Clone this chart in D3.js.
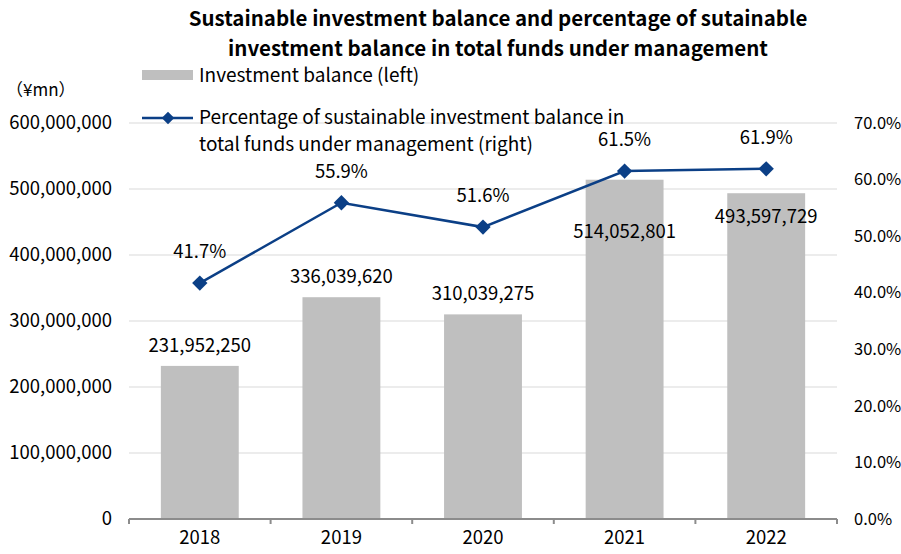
<!DOCTYPE html>
<html>
<head>
<meta charset="utf-8">
<script src="https://cdn.jsdelivr.net/npm/d3@7"></script>
<style>
  body { margin: 0; background: #fff; }
  text { font-family: "Noto Sans CJK JP", "Noto Sans", sans-serif; fill: #000; }
</style>
</head>
<body>
<div id="chart"></div>
<script>
var years = ["2018", "2019", "2020", "2021", "2022"];
var balance = [231952250, 336039620, 310039275, 514052801, 493597729];
var share = [41.7, 55.9, 51.6, 61.5, 61.9];
var leftTicks = [0, 100000000, 200000000, 300000000, 400000000, 500000000, 600000000];
var rightTicks = [0, 10, 20, 30, 40, 50, 60, 70];
// bar labels for 2021/2022 sit inside the bar (line labels are above)
var barLabelShift = [0, 0, 0, 72, 44];

var W = 901, H = 554;
var Margin = {top: 123, right: 64, bottom: 35, left: 129};

var svg = d3.select("#chart").append("svg")
  .attr("width", W)
  .attr("height", H);

var x = d3.scaleBand().domain(years).range([Margin.left, W - Margin.right])
  .paddingInner(0.45).paddingOuter(0.225);
var xOuter = d3.scaleBand().domain(years).range([Margin.left, W - Margin.right]);
var yL = d3.scaleLinear().domain([0, 600000000]).range([H - Margin.bottom, Margin.top]);
var yR = d3.scaleLinear().domain([0, 70]).range([H - Margin.bottom, Margin.top]);

// gridlines
svg.append("g").selectAll("line").data(leftTicks.slice(1)).join("line")
  .attr("x1", Margin.left).attr("x2", W - Margin.right)
  .attr("y1", d => yL(d)).attr("y2", d => yL(d))
  .style("stroke", "#d9d9d9").style("stroke-width", 1);

// bars
svg.append("g").selectAll("rect").data(balance).join("rect")
  .attr("x", (d, i) => x(years[i]))
  .attr("y", d => yL(d))
  .attr("width", x.bandwidth())
  .attr("height", d => yL(0) - yL(d))
  .style("fill", "#bfbfbf");

// x axis
var xAxis = d3.axisBottom(xOuter).tickSize(0).tickPadding(12);
var gx = svg.append("g").attr("transform", `translate(0,${H - Margin.bottom})`).call(xAxis);
gx.select(".domain").remove();
gx.selectAll("text").style("font-size", "18.5px");
svg.append("line")
  .attr("x1", Margin.left).attr("x2", W - Margin.right)
  .attr("y1", H - Margin.bottom).attr("y2", H - Margin.bottom)
  .style("stroke", "#8c8c8c").style("stroke-width", 2);
var bounds = years.map(d => xOuter(d)).concat([W - Margin.right]);
svg.append("g").selectAll("line").data(bounds).join("line")
  .attr("x1", d => d).attr("x2", d => d)
  .attr("y1", H - Margin.bottom).attr("y2", H - Margin.bottom + 5)
  .style("stroke", "#8c8c8c").style("stroke-width", 2);

// left axis
var gl = svg.append("g").attr("transform", `translate(${Margin.left},0)`)
  .call(d3.axisLeft(yL).tickValues(leftTicks).tickFormat(d3.format(",")).tickSize(0).tickPadding(17));
gl.select(".domain").remove();
gl.selectAll("text").style("font-size", "18.5px");

// right axis
var gr = svg.append("g").attr("transform", `translate(${W - Margin.right},0)`)
  .call(d3.axisRight(yR).tickValues(rightTicks).tickFormat(d => d.toFixed(1) + "%").tickSize(0).tickPadding(17));
gr.select(".domain").remove();
gr.selectAll("text").style("font-size", "16.5px");

// bar value labels
svg.append("g").selectAll("text").data(balance).join("text")
  .attr("x", (d, i) => x(years[i]) + x.bandwidth() / 2)
  .attr("y", (d, i) => yL(d) - 14 + barLabelShift[i])
  .attr("text-anchor", "middle")
  .style("font-size", "18.5px")
  .text(d => d3.format(",")(d));

// line
var cx = (d, i) => x(years[i]) + x.bandwidth() / 2;
svg.append("path").datum(share)
  .attr("d", d3.line().x(cx).y(d => yR(d)))
  .style("fill", "none").style("stroke", "#0b3f86").style("stroke-width", 2.5);
svg.append("g").selectAll("path").data(share).join("path")
  .attr("transform", (d, i) => `translate(${cx(d, i)},${yR(d)})`)
  .attr("d", d3.symbol(d3.symbolDiamond2, 150))
  .style("fill", "#0b3f86");
svg.append("g").selectAll("text").data(share).join("text")
  .attr("x", cx)
  .attr("y", d => yR(d) - 25)
  .attr("text-anchor", "middle")
  .style("font-size", "18.5px")
  .text(d => d.toFixed(1) + "%");

// title
var title = svg.append("text").attr("x", 498).attr("y", 26)
  .attr("text-anchor", "middle")
  .style("font-size", "20.5px").style("font-weight", "bold");
title.append("tspan").attr("x", 498).text("Sustainable investment balance and percentage of sutainable");
title.append("tspan").attr("x", 498).attr("dy", 30).text("investment balance in total funds under management");

// unit
svg.append("text").attr("x", 6).attr("y", 96).style("font-size", "17px").text("（¥mn）");

// legend
svg.append("rect").attr("x", 142).attr("y", 70).attr("width", 51).attr("height", 10).style("fill", "#bfbfbf");
svg.append("text").attr("x", 199).attr("y", 82).style("font-size", "19px").text("Investment balance (left)");
svg.append("line").attr("x1", 142).attr("x2", 193).attr("y1", 118).attr("y2", 118)
  .style("stroke", "#0b3f86").style("stroke-width", 2.5);
svg.append("path").attr("transform", "translate(168,118)")
  .attr("d", d3.symbol(d3.symbolDiamond2, 100)).style("fill", "#0b3f86");
svg.append("text").attr("x", 199).attr("y", 124).style("font-size", "19px")
  .text("Percentage of sustainable investment balance in");
svg.append("text").attr("x", 199).attr("y", 151).style("font-size", "19px")
  .text("total funds under management (right)");
</script>
</body>
</html>
